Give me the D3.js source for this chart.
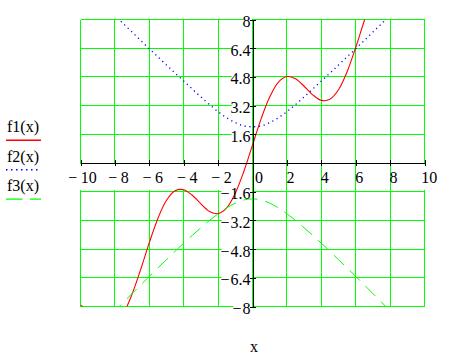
<!DOCTYPE html>
<html>
<head>
<meta charset="utf-8">
<script src="https://cdn.jsdelivr.net/npm/d3@7"></script>
<style>
  html, body { margin: 0; padding: 0; background: #fff; }
  svg text { font-family: "Liberation Serif", "Times New Roman", serif; font-size: 16px; fill: #000; }
</style>
</head>
<body>
<svg id="chart" width="452" height="357"></svg>
<script>
// sample points
var xs = [-10, -9.5, -9, -8.5, -8, -7.5, -7, -6.5, -6, -5.5, -5, -4.5, -4, -3.5, -3, -2.5, -2, -1.5, -1, -0.5,
          0, 0.5, 1, 1.5, 2, 2.5, 3, 3.5, 4, 4.5, 5, 5.5, 6, 6.5, 7, 7.5, 8, 8.5, 9, 9.5, 10];
var f1 = [-7.91, -8.35, -8.82, -9.10, -8.98, -8.38, -7.31, -5.93, -4.44, -3.09, -2.08, -1.55, -1.49, -1.80, -2.28, -2.70, -2.82, -2.50, -1.68, -0.46,
          1.00, 2.46, 3.68, 4.50, 4.82, 4.70, 4.28, 3.80, 3.49, 3.55, 4.08, 5.09, 6.44, 7.93, 9.31, 10.38, 10.98, 11.10, 10.82, 10.35, 9.91];
var f2 = [10.20, 9.71, 9.22, 8.73, 8.25, 7.76, 7.30, 6.83, 6.37, 5.92, 5.46, 5.01, 4.57, 4.12, 3.68, 3.26, 2.86, 2.52, 2.25, 2.07,
          2.02, 2.07, 2.25, 2.52, 2.86, 3.26, 3.68, 4.12, 4.57, 5.01, 5.46, 5.92, 6.37, 6.83, 7.30, 7.76, 8.25, 8.73, 9.22, 9.71, 10.20];
var f3 = [-10.20, -9.71, -9.22, -8.73, -8.25, -7.76, -7.28, -6.80, -6.32, -5.85, -5.39, -4.92, -4.47, -4.03, -3.61, -3.20, -2.83, -2.50, -2.24, -2.06,
          -2.00, -2.06, -2.24, -2.50, -2.83, -3.20, -3.61, -4.03, -4.47, -4.92, -5.39, -5.85, -6.32, -6.80, -7.28, -7.76, -8.25, -8.73, -9.22, -9.71, -10.20];

var xTicks = [-10, -8, -6, -4, -2, 0, 2, 4, 6, 8, 10];
var yTicks = [-8, -6.4, -4.8, -3.2, -1.6, 0, 1.6, 3.2, 4.8, 6.4, 8];
var legendNames = ["f1(x)", "f2(x)", "f3(x)"];
var xTitle = "x";

var svg = d3.select("#chart");

var x = d3.scaleLinear().domain([-10, 10]).range([80.5, 424.5]);
var y = d3.scaleLinear().domain([-8, 8]).range([306.5, 19.5]);
var x0 = x(0), y0 = y(0);

var series = [
  {name: legendNames[0], vals: f1, color: "#ff0000", width: 1.1, dash: null, legDash: null},
  {name: legendNames[1], vals: f2, color: "#0000ff", width: 1.3, dash: "1.2,3.6", legDash: "1.5,3.5"},
  {name: legendNames[2], vals: f3, color: "#00ff00", width: 1, dash: "14,8", legDash: "16.5,7.5"}
];

svg.append("defs").append("clipPath").attr("id", "plotclip")
  .append("rect")
  .attr("x", x(-10)).attr("y", y(8))
  .attr("width", x(10) - x(-10)).attr("height", y(-8) - y(8));

//grid
var grid = svg.append("g").attr("shape-rendering", "crispEdges")
  .attr("stroke", "#00ff00").attr("stroke-width", 1);
grid.selectAll(".vg").data(xTicks).enter().append("line")
  .attr("x1", function (d) { return x(d); }).attr("x2", function (d) { return x(d); })
  .attr("y1", y(8)).attr("y2", y(-8));
grid.selectAll(".hg").data(yTicks).enter().append("line")
  .attr("y1", function (d) { return y(d); }).attr("y2", function (d) { return y(d); })
  .attr("x1", x(-10)).attr("x2", x(10));

//tick labels (boxes first, text later)
var boxLayer = svg.append("g");
var labelLayer = svg.append("g");

function xOffset(v) {
  if (v === 0) return 6.5;
  if (v === -10) return 2;
  if (v === 10) return 4.7;
  return 3.5;
}

xTicks.forEach(function (v) {
  var t = labelLayer.append("text")
    .attr("x", x(v) + xOffset(v))
    .attr("y", y0 + 20)
    .attr("text-anchor", "middle");
  if (v < 0) {
    t.append("tspan").text("\u2212");
    t.append("tspan").attr("dx", 3.5).text(Math.abs(v));
  } else {
    t.append("tspan").text(v);
  }
  var b = t.node().getBBox();
  boxLayer.append("rect")
    .attr("x", b.x + 1.5).attr("width", b.width - 2.5)
    .attr("y", y0 + 1).attr("height", 26)
    .attr("fill", "#fff");
});

yTicks.forEach(function (v) {
  if (v === 0) return;
  var t = labelLayer.append("text")
    .attr("x", x0 - 2)
    .attr("y", y(v) + 7.5)
    .attr("text-anchor", "end");
  if (v < 0) {
    t.append("tspan").text("\u2212");
    t.append("tspan").attr("dx", 1).text(Math.abs(v));
  } else {
    t.append("tspan").text(v);
  }
  var b = t.node().getBBox();
  boxLayer.append("rect")
    .attr("x", b.x + 1).attr("width", x0 - 0.5 - (b.x + 1))
    .attr("y", y(v) - 7).attr("height", 15)
    .attr("fill", "#fff");
});

//curves
var line = d3.line()
  .x(function (d) { return x(d[0]); })
  .y(function (d) { return y(d[1]); })
  .curve(d3.curveCatmullRom.alpha(0.5));

svg.append("g").attr("clip-path", "url(#plotclip)")
  .selectAll("path").data(series).enter().append("path")
  .attr("fill", "none")
  .attr("stroke", function (d) { return d.color; })
  .attr("stroke-width", function (d) { return d.width; })
  .attr("stroke-dasharray", function (d) { return d.dash; })
  .attr("d", function (d) { return line(xs.map(function (xv, i) { return [xv, d.vals[i]]; })); });

//axes through the origin
var xAxis = d3.axisBottom(x).tickValues(xTicks).tickSize(3).tickSizeOuter(0).tickFormat("");
var yAxis = d3.axisLeft(y).tickValues(yTicks).tickSize(3).tickSizeOuter(0).tickFormat("");

var gx = svg.append("g").attr("transform", "translate(0," + y0 + ")").call(xAxis);
gx.selectAll(".tick line").attr("y1", -3);
var gy = svg.append("g").attr("transform", "translate(" + x0 + ",0)").call(yAxis);
gy.selectAll(".tick line").attr("x1", 3);
svg.selectAll(".domain, .tick line").attr("stroke", "#000").attr("stroke-width", 1)
  .attr("shape-rendering", "crispEdges");

labelLayer.raise();

//legend
var leg = svg.append("g");
series.forEach(function (s, i) {
  var base = 132 + i * 29.5;
  leg.append("text").attr("x", 7).attr("y", base).text(s.name);
  leg.append("line")
    .attr("x1", 6).attr("x2", 41)
    .attr("y1", base + 8.2).attr("y2", base + 8.2)
    .attr("stroke", s.color).attr("stroke-width", s.width + 0.3)
    .attr("stroke-dasharray", s.legDash);
});

svg.append("text")
  .attr("x", 254).attr("y", 351.5)
  .attr("text-anchor", "middle")
  .text(xTitle);
</script>
</body>
</html>
